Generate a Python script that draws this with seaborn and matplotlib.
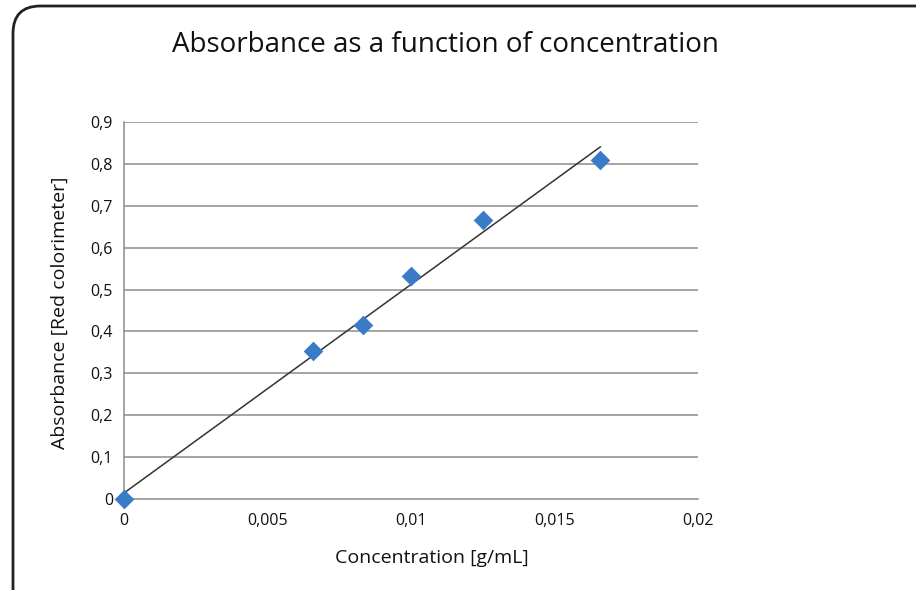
import numpy as np
import pandas as pd
import seaborn as sns
import matplotlib
matplotlib.use("Agg")
import matplotlib.pyplot as plt
from matplotlib.patches import FancyBboxPatch
from matplotlib.ticker import FuncFormatter

concentration = [0.0, 0.0066, 0.00833, 0.0100, 0.0125, 0.0166]
absorbance = [0.0, 0.353, 0.415, 0.533, 0.665, 0.810]
x_ticks = [0, 0.005, 0.01, 0.015, 0.02]
y_ticks = [0, 0.1, 0.2, 0.3, 0.4, 0.5, 0.6, 0.7, 0.8, 0.9]

df = pd.DataFrame({"conc": concentration, "abs": absorbance})

sns.set_style("white")
plt.rcParams["font.family"] = ["Open Sans", "DejaVu Sans"]

fig = plt.figure(figsize=(9.16, 5.9), dpi=100)
ax = fig.add_axes([124/916, 1-499/590, (698-124)/916, (499-122)/590])

# border
border = FancyBboxPatch((13/916, -0.2), 1.2, 1 - 6/590 + 0.2,
                        boxstyle="round,pad=0,rounding_size=0.03",
                        transform=fig.transFigure, fill=False,
                        edgecolor="#222222", linewidth=2.0, mutation_aspect=916/590)
fig.patches.append(border)

for yv in y_ticks[1:]:
    ax.axhline(yv, color="#8c8c8c", linewidth=1.1, zorder=0)

sns.regplot(data=df, x="conc", y="abs", ax=ax, ci=None, scatter=False,
            line_kws=dict(color="#333333", linewidth=1.1, zorder=2))
sns.scatterplot(data=df, x="conc", y="abs", ax=ax, marker="D", s=100,
                color="#3a7bc8", edgecolor="#3a7bc8", linewidth=0, zorder=3,
                clip_on=False)

ax.set_xlim(0, 0.02)
ax.set_ylim(0, 0.9)
ax.set_xticks(x_ticks)
ax.set_yticks(y_ticks)
fmt = FuncFormatter(lambda v, p: ("0" if v == 0 else ("%g" % v).replace(".", ",")))
ax.xaxis.set_major_formatter(fmt)
ax.yaxis.set_major_formatter(fmt)

for s in ["top", "right"]:
    ax.spines[s].set_visible(False)
for s in ["left", "bottom"]:
    ax.spines[s].set_color("#8c8c8c")
    ax.spines[s].set_linewidth(1.1)
ax.tick_params(axis="both", which="major", direction="out", length=6,
               width=1.1, color="#8c8c8c", labelsize=11.5, labelcolor="#111111")
ax.tick_params(axis="x", pad=4)
ax.tick_params(axis="y", pad=2)

ax.set_xlabel("Concentration [g/mL]", fontsize=14, color="#111111")
ax.xaxis.set_label_coords((432-124)/574, -(558-499)/377, transform=ax.transAxes)
ax.xaxis.label.set_va("center")
ax.set_ylabel("Absorbance [Red colorimeter]", fontsize=14, color="#111111")
ax.yaxis.set_label_coords(-(124-60)/574, (499-313)/377, transform=ax.transAxes)
ax.yaxis.label.set_va("center")
fig.text(445/916, 1-45/590, "Absorbance as a function of concentration",
         ha="center", va="center", fontsize=20, color="#111111")

fig.savefig("out.png", dpi=100)
